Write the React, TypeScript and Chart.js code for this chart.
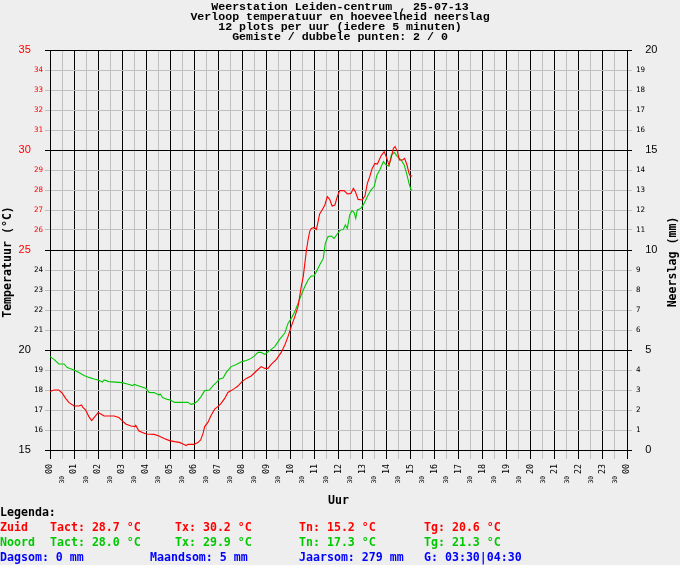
import React, { useEffect, useRef } from 'react';
import { Chart, registerables } from 'chart.js';

Chart.register(...registerables);

// --- data ------------------------------------------------------------------
const titleLines = [
  'Weerstation Leiden-centrum , 25-07-13',
  'Verloop temperatuur en hoeveelheid neerslag',
  '12 plots per uur (iedere 5 minuten)',
  'Gemiste / dubbele punten: 2 / 0',
];

const hourLabels = [
  '00', '01', '02', '03', '04', '05', '06', '07', '08', '09', '10', '11',
  '12', '13', '14', '15', '16', '17', '18', '19', '20', '21', '22', '23', '00',
];
const halfHourLabel = '30';

// minutes since midnight / temperature (°C)
const zuidMinutes = [
  0, 10, 22, 31, 39, 47, 60, 72, 79, 81, 89, 97, 104, 110, 120, 127, 135, 160, 172, 180,
  189, 202, 212, 214, 222, 240, 260, 272, 285, 298, 311, 323, 332, 340, 344, 359, 369, 376, 382, 386,
  394, 402, 411, 419, 427, 436, 444, 452, 461, 469, 479, 490, 502, 515, 527, 536, 544, 552, 565, 577,
  586, 594, 602, 611, 619, 623, 627, 632, 636, 640, 644, 648, 652, 659, 665, 669, 673, 679, 686, 692,
  698, 704, 711, 717, 723, 734, 742, 751, 757, 762, 769, 779, 786, 792, 798, 804, 811, 817, 826, 834,
  839, 846, 851, 857, 861, 867, 872, 880, 885, 891, 896, 899, 904,
];
const zuidTemps = [
  17.92, 18.0, 18.0, 17.83, 17.58, 17.38, 17.2, 17.2, 17.25, 17.15, 17.0, 16.67, 16.47, 16.62, 16.87, 16.8, 16.7, 16.7, 16.62, 16.47,
  16.3, 16.2, 16.17, 16.23, 15.95, 15.8, 15.78, 15.7, 15.58, 15.47, 15.42, 15.38, 15.3, 15.22, 15.28, 15.28, 15.37, 15.5, 15.83, 16.17,
  16.38, 16.72, 17.05, 17.17, 17.33, 17.58, 17.88, 17.97, 18.08, 18.2, 18.42, 18.58, 18.7, 18.95, 19.17, 19.08, 19.08, 19.28, 19.53, 19.88,
  20.25, 20.67, 21.17, 21.67, 22.17, 22.67, 23.17, 23.67, 24.33, 25.0, 25.5, 25.92, 26.08, 26.13, 26.03, 26.42, 26.8, 27.0, 27.25, 27.67,
  27.53, 27.2, 27.25, 27.67, 27.97, 27.97, 27.8, 27.83, 28.08, 27.92, 27.53, 27.5, 27.7, 28.33, 28.67, 29.08, 29.33, 29.3, 29.7, 29.92,
  29.67, 29.25, 29.58, 30.08, 30.17, 29.92, 29.5, 29.5, 29.58, 29.25, 28.83, 28.7, 28.7,
];

const noordMinutes = [
  0, 10, 22, 35, 43, 60, 72, 85, 97, 110, 120, 131, 135, 147, 180, 193, 206, 210, 222, 240,
  247, 260, 272, 275, 281, 293, 300, 311, 344, 352, 361, 369, 377, 386, 398, 407, 415, 423, 432, 440,
  452, 465, 479, 490, 502, 511, 519, 527, 536, 548, 561, 573, 586, 594, 602, 611, 619, 627, 636, 644,
  652, 659, 665, 673, 682, 687, 694, 702, 709, 717, 723, 732, 737, 742, 748, 754, 759, 763, 767, 776,
  784, 792, 801, 809, 816, 823, 832, 839, 846, 852, 859, 867, 876, 884, 890, 896, 901, 904,
];
const noordTemps = [
  19.67, 19.53, 19.3, 19.3, 19.12, 19.0, 18.87, 18.72, 18.63, 18.55, 18.5, 18.4, 18.5, 18.42, 18.37, 18.3, 18.22, 18.28, 18.2, 18.08,
  17.88, 17.87, 17.75, 17.8, 17.62, 17.53, 17.5, 17.38, 17.38, 17.28, 17.33, 17.47, 17.67, 17.97, 18.0, 18.22, 18.37, 18.55, 18.6, 18.88,
  19.17, 19.28, 19.42, 19.47, 19.58, 19.72, 19.88, 19.88, 19.78, 19.97, 20.17, 20.53, 20.85, 21.33, 21.58, 21.92, 22.33, 22.75, 23.17, 23.5,
  23.7, 23.7, 23.92, 24.25, 24.58, 25.33, 25.67, 25.7, 25.58, 25.8, 25.97, 26.03, 26.25, 26.08, 26.75, 26.97, 26.87, 26.58, 27.0, 27.08,
  27.33, 27.67, 28.0, 28.17, 28.75, 29.0, 29.42, 29.25, 29.2, 29.75, 29.88, 29.67, 29.5, 29.25, 28.83, 28.33, 28.0, 28.0,
];

const stations = ['Zuid', 'Noord'];
const tactValues = [28.7, 28.0];
const txValues = [30.2, 29.9];
const tnValues = [15.2, 17.3];
const tgValues = [20.6, 21.3];
const rainDay = 0;
const rainMonth = 5;
const rainYear = 279;
const gTimes = '03:30|04:30';

// --- style ------------------------------------------------------------------
const MONO = '"DejaVu Sans Mono", "Liberation Mono", monospace';
const TITLE_MONO = '"Liberation Mono", "DejaVu Sans Mono", monospace';
const SANS = '"Liberation Sans", Arial, sans-serif';
const BG = '#eeeeee';
const RED = '#ff0000';
const GREEN = '#00c800';
const BLUE = '#0000ff';
const MAJOR = '#000000';
const MINOR = '#c0c0c0';

const isHour = (v: number) => Number.isInteger(v);
const isMajor = (v: number) => v % 5 === 0;

// the side titles both read bottom-to-top, which Chart.js does not do on the right
const sideTitles = {
  id: 'sideTitles',
  afterDraw(chart: Chart) {
    const { ctx } = chart;
    ctx.save();
    ctx.fillStyle = '#000';
    ctx.font = `bold 11.6px ${MONO}`;
    ctx.textAlign = 'center';
    ctx.textBaseline = 'middle';
    const items: [number, string][] = [[7.5, 'Temperatuur (°C)'], [673, 'Neerslag (mm)']];
    items.forEach(([x, text]) => {
      ctx.save();
      ctx.translate(x, 262);
      ctx.rotate(-Math.PI / 2);
      ctx.fillText(text, 0, 0);
      ctx.restore();
    });
    ctx.restore();
  },
};

const legendFont: React.CSSProperties = {
  position: 'absolute',
  fontFamily: MONO,
  fontWeight: 'bold',
  fontSize: '11.6px',
  lineHeight: '14px',
  whiteSpace: 'pre',
};

const Txt = ({ x, y, color, children }: { x: number; y: number; color: string; children: React.ReactNode }) => (
  <span style={{ ...legendFont, left: x, top: y - 7, color }}>{children}</span>
);

const App: React.FC = () => {
  const chartRef = useRef<HTMLCanvasElement | null>(null);

  useEffect(() => {
    document.body.style.margin = '0';
    document.body.style.background = BG;
    if (!chartRef.current) return;

    const chart = new Chart(chartRef.current, {
      type: 'line',
      data: {
        datasets: [
          {
            label: 'Zuid',
            data: zuidMinutes.map((m, i) => ({ x: m / 60, y: zuidTemps[i] })),
            borderColor: RED,
            borderWidth: 1.1,
            pointRadius: 0,
            tension: 0,
            yAxisID: 'y',
          },
          {
            label: 'Noord',
            data: noordMinutes.map((m, i) => ({ x: m / 60, y: noordTemps[i] })),
            borderColor: GREEN,
            borderWidth: 1.1,
            pointRadius: 0,
            tension: 0,
            yAxisID: 'y',
          },
        ],
      },
      options: {
        animation: false,
        responsive: false,
        layout: { padding: { top: 0, left: 0, right: 0, bottom: 55 } },
        plugins: {
          legend: { display: false },
          tooltip: { enabled: false },
          title: {
            display: true,
            text: titleLines,
            color: '#000',
            font: { family: TITLE_MONO, size: 11.6, weight: 'bold', lineHeight: '10px' },
            padding: { top: 2, bottom: 8 },
          },
        },
        scales: {
          x: {
            type: 'linear',
            min: 0,
            max: 24,
            afterFit: (s: any) => { s.height = 60; },
            grid: {
              color: (c: any) => (c.tick && isHour(c.tick.value) ? MAJOR : MINOR),
              tickLength: 9,
            },
            border: { color: MAJOR },
            ticks: {
              stepSize: 0.5,
              autoSkip: false,
              minRotation: 90,
              maxRotation: 90,
              padding: 5,
              color: '#000',
              font: (c: any) => (c.tick && isHour(c.tick.value)
                ? { family: MONO, size: 8.3 }
                : { family: MONO, size: 6.5 }),
              callback: (v: any) => (isHour(v) ? hourLabels[v] : halfHourLabel + '   '),
            },
            title: {
              display: true,
              text: 'Uur',
              color: '#000',
              font: { family: MONO, size: 11.6, weight: 'bold' },
              padding: { top: 0, bottom: 2 },
            },
          },
          y: {
            type: 'linear',
            position: 'left',
            min: 15,
            max: 35,
            afterFit: (s: any) => { s.width = 50; },
            grid: {
              color: (c: any) => (c.tick && isMajor(c.tick.value) ? MAJOR : MINOR),
              tickLength: 5,
            },
            border: { color: MAJOR },
            ticks: {
              stepSize: 1,
              padding: 2,
              color: (c: any) => (c.tick && c.tick.value >= 25 ? RED : '#000'),
              font: (c: any) => (c.tick && isMajor(c.tick.value)
                ? { family: SANS, size: 11 }
                : { family: MONO, size: 7.5 }),
              callback: (v: any) => (isMajor(v) ? v + '    ' : String(v)),
            },
          },
          y2: {
            type: 'linear',
            position: 'right',
            min: 0,
            max: 20,
            afterFit: (s: any) => { s.width = 53; },
            grid: {
              drawOnChartArea: false,
              color: (c: any) => (c.tick && isMajor(c.tick.value) ? MAJOR : MINOR),
              tickLength: 5,
            },
            border: { color: MAJOR },
            ticks: {
              stepSize: 1,
              padding: 4,
              color: '#000',
              font: (c: any) => (c.tick && isMajor(c.tick.value)
                ? { family: SANS, size: 11 }
                : { family: MONO, size: 7.5 }),
              callback: (v: any) => (isMajor(v) ? '   ' + v : String(v)),
            },
          },
        },
      },
      plugins: [sideTitles],
    });

    return () => {
      chart.destroy();
    };
  }, []);

  const stationColors = [RED, GREEN];

  return (
    <div style={{ position: 'absolute', left: 0, top: 0, width: 680, height: 565, background: BG, overflow: 'hidden' }}>
      <canvas ref={chartRef} width={680} height={565} style={{ width: 680, height: 565, display: 'block' }} />
      <Txt x={0} y={512} color="#000">Legenda:</Txt>
      {stations.map((name, i) => {
        const y = 527 + i * 15;
        const col = stationColors[i];
        return (
          <React.Fragment key={name}>
            <Txt x={0} y={y} color={col}>{name}</Txt>
            <Txt x={50} y={y} color={col}>{`Tact: ${tactValues[i].toFixed(1)} °C`}</Txt>
            <Txt x={175} y={y} color={col}>{`Tx: ${txValues[i].toFixed(1)} °C`}</Txt>
            <Txt x={299} y={y} color={col}>{`Tn: ${tnValues[i].toFixed(1)} °C`}</Txt>
            <Txt x={424} y={y} color={col}>{`Tg: ${tgValues[i].toFixed(1)} °C`}</Txt>
          </React.Fragment>
        );
      })}
      <Txt x={0} y={557} color={BLUE}>{`Dagsom: ${rainDay} mm`}</Txt>
      <Txt x={150} y={557} color={BLUE}>{`Maandsom: ${rainMonth} mm`}</Txt>
      <Txt x={299} y={557} color={BLUE}>{`Jaarsom: ${rainYear} mm`}</Txt>
      <Txt x={424} y={557} color={BLUE}>{`G: ${gTimes}`}</Txt>
    </div>
  );
};

export default App;
